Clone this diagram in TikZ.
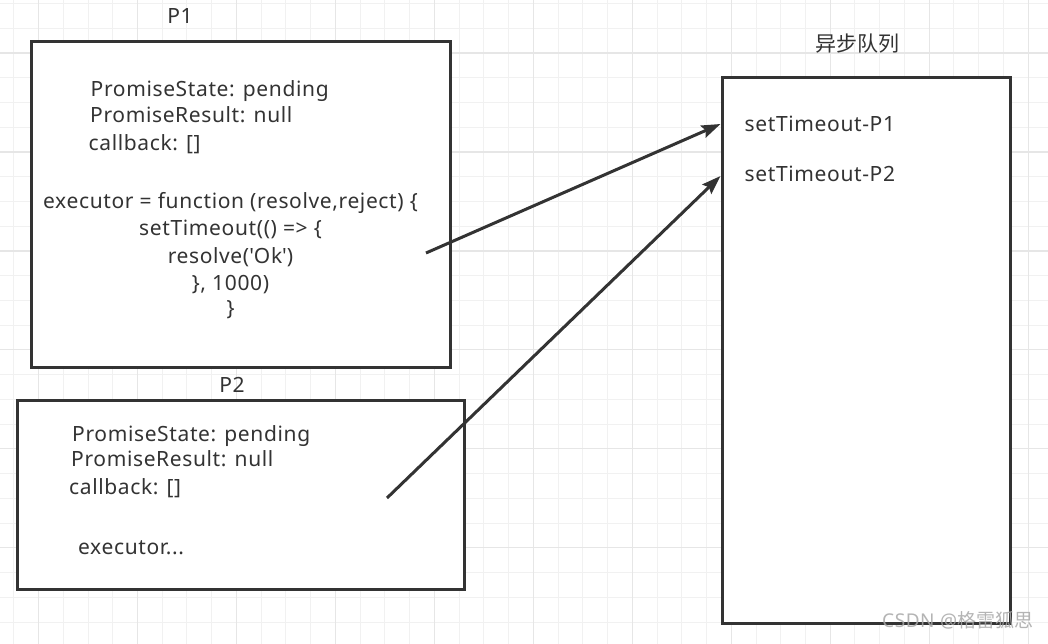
\documentclass[tikz,border=0pt]{standalone}
\usepackage{fontspec}
\setmainfont{Noto Sans}[LetterSpace=3]
\newfontfamily\cjk{Noto Sans CJK SC}
\usetikzlibrary{arrows.meta}
\definecolor{ink}{HTML}{333333}
\definecolor{gridlo}{HTML}{F1F1F1}
\definecolor{gridhi}{HTML}{E6E6E6}
\definecolor{wmgray}{HTML}{A8A8A8}

\begin{document}
\begin{tikzpicture}[x=1pt,y=-1pt,>=Stealth,
 box/.style={draw=ink,line width=3pt,fill=white,inner sep=0pt},
 txt/.style={inner sep=0pt,text=ink,font=\fontsize{21}{25}\selectfont},
 lbl/.style={txt,anchor=base},
 arr/.style={->,draw=ink,line width=3pt,
  -{Stealth[length=19pt,width=13pt,inset=3pt]}},
 gridminor/.style={draw=gridlo,line width=1pt},
 gridmajor/.style={draw=gridhi,line width=1.2pt}]
\useasboundingbox (0,0) rectangle (1048,644);
\fill[white] (0,0) rectangle (1048,644);
% background grid
\foreach \i in {0,...,42} \draw[gridminor] ({13.8+24.74*\i},0) -- ({13.8+24.74*\i},644);
\foreach \j in {0,...,25} \draw[gridminor] (0,{3.5+24.74*\j}) -- (1048,{3.5+24.74*\j});
\foreach \i in {0,...,10} \draw[gridmajor] ({38.5+98.96*\i},0) -- ({38.5+98.96*\i},644);
\foreach \j in {0,...,5} \draw[gridmajor] (0,{53+98.96*\j}) -- (1048,{53+98.96*\j});

% boxes
\node[box,minimum width=419pt,minimum height=326pt] (p1) at (240.5,204.5) {};
\node[box,minimum width=447pt,minimum height=189pt] (p2) at (240.5,494.5) {};
\node[box,minimum width=288pt,minimum height=545pt] (queue) at (866,350.5) {};

% labels
\node[lbl] (p1label) at (180,24) {P1};
\node[lbl] (p2label) at (232,392.5) {P2};
\node[lbl,font=\cjk\fontsize{21}{25}\selectfont] (qlabel) at (857,51.5) {异步队列};

% P1
\node[txt,anchor=base west] (p1state) at (90.5,97) {PromiseState: pending};
\node[txt,anchor=base west] (p1result) at (90,123) {PromiseResult: null};
\node[txt,anchor=base west] (p1cb) at (88.5,150.5) {callback: []};
\node[lbl] (p1exec) at (230.5,209) {executor = function (resolve,reject) \{};
\node[lbl] (p1timer) at (230.5,236) {setTimeout(() => \{};
\node[lbl] (p1resolve) at (230.5,263) {resolve(\textquotesingle Ok\textquotesingle)};
\node[lbl] (p1delay) at (230.5,290) {\}, 1000)};
\node[lbl] (p1close) at (230.5,315) {\}};

% P2
\node[txt,anchor=base west] (p2state) at (72,441.5) {PromiseState: pending};
\node[txt,anchor=base west] (p2result) at (71,466.5) {PromiseResult: null};
\node[txt,anchor=base west] (p2cb) at (69,494) {callback: []};
\node[txt,anchor=base west] (p2exec) at (78,554) {executor...};

% queue
\node[txt,anchor=base west] (qp1) at (744.5,131.5) {setTimeout-P1};
\node[txt,anchor=base west] (qp2) at (744.5,181.5) {setTimeout-P2};

% arrows
\coordinate (p1src) at (426,253);
\coordinate (p2src) at (387,498);
\draw[arr] (p1src) -- (queue.west |- 0,124);
\draw[arr] (p2src) -- (queue.west |- 0,176);

\node[anchor=base west,inner sep=0pt,text=wmgray,opacity=.85,
 font=\fontsize{19}{21}\selectfont] (wm) at (882,627) {CSDN @{\cjk 格雷狐思}};
\end{tikzpicture}
\end{document}
